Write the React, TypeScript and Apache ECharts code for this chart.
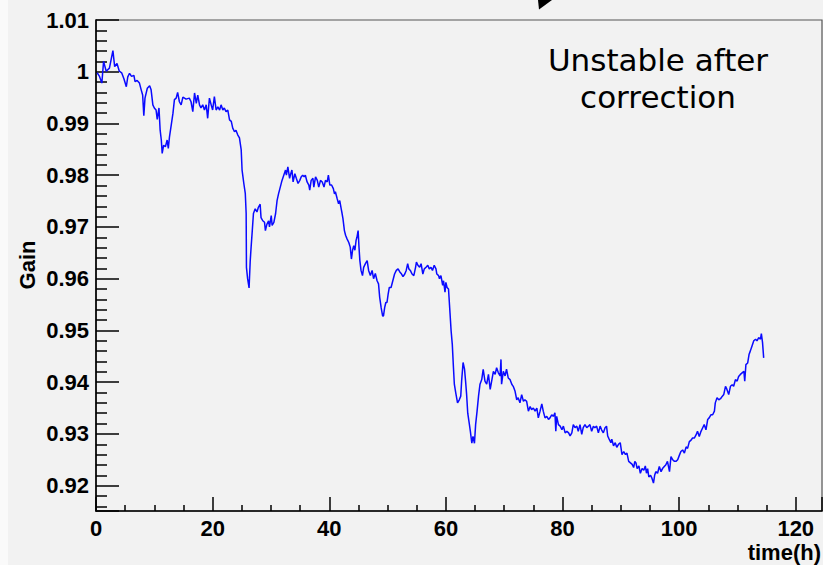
import { useEffect, useRef } from "react";
import * as echarts from "echarts";

// Gain of the detector channel versus elapsed time (hours)
const hours = [
  0.2, 0.6, 1.0, 1.3, 1.75, 2.3, 2.9, 3.2, 3.6, 4.0,
  4.4, 4.8, 5.2, 5.45, 5.75, 6.1, 6.5, 6.7, 7.05, 7.45,
  7.75, 8.0, 8.2, 8.4, 8.8, 9.2, 9.45, 9.75, 10.0, 10.3,
  10.5, 10.8, 11.0, 11.2, 11.35, 11.6, 11.9, 12.2, 12.4, 12.6,
  12.9, 13.2, 13.45, 13.75, 14.0, 14.3, 14.6, 14.9, 15.45, 16.0,
  16.3, 16.6, 16.9, 17.2, 17.45, 17.75, 18.0, 18.3, 18.6, 18.9,
  19.15, 19.45, 19.75, 20.0, 20.3, 20.6, 20.9, 21.2, 21.45, 21.75,
  22.0, 22.3, 22.6, 22.9, 23.2, 23.45, 23.75, 24.0, 24.3, 24.6,
  24.9, 25.05, 25.35, 25.6, 25.75, 25.8, 26.0, 26.25, 26.45, 26.6,
  26.8, 27.0, 27.3, 27.6, 27.85, 28.15, 28.3, 28.6, 28.9, 29.05,
  29.3, 29.6, 29.75, 30.05, 30.2, 30.5, 30.8, 31.05, 31.3, 31.6,
  31.9, 32.2, 32.5, 32.65, 32.9, 33.2, 33.4, 33.6, 33.8, 34.1,
  34.35, 34.65, 34.95, 35.2, 35.45, 35.7, 35.9, 36.2, 36.5, 36.65,
  36.9, 37.2, 37.35, 37.65, 37.95, 38.2, 38.5, 38.8, 39.1, 39.35,
  39.65, 39.85, 40.1, 40.4, 40.7, 40.9, 41.05, 41.35, 41.6, 41.8,
  42.05, 42.2, 42.35, 42.6, 42.8, 43.05, 43.35, 43.6, 43.8, 44.0,
  44.2, 44.4, 44.6, 44.75, 44.95, 45.1, 45.25, 45.45, 45.7, 45.9,
  46.2, 46.5, 46.75, 47.05, 47.35, 47.6, 47.9, 48.2, 48.45, 48.65,
  48.9, 49.15, 49.3, 49.5, 49.7, 49.9, 50.1, 50.3, 50.6, 50.9,
  51.2, 51.5, 51.8, 52.1, 52.4, 52.65, 52.95, 53.2, 53.45, 53.65,
  53.9, 54.2, 54.5, 54.8, 54.95, 55.2, 55.5, 55.75, 56.05, 56.3,
  56.6, 56.9, 57.15, 57.45, 57.7, 58.0, 58.3, 58.45, 58.75, 58.9,
  59.15, 59.45, 59.6, 59.85, 60.0, 60.2, 60.45, 60.7, 60.9, 61.1,
  61.3, 61.45, 61.7, 62.0, 62.3, 62.55, 62.7, 62.95, 63.2, 63.4,
  63.55, 63.75, 64.0, 64.2, 64.45, 64.65, 64.9, 65.1, 65.35, 65.6,
  65.85, 66.15, 66.4, 66.7, 67.0, 67.3, 67.6, 67.85, 68.15, 68.45,
  68.7, 69.0, 69.3, 69.45, 69.55, 69.85, 70.15, 70.4, 70.7, 71.0,
  71.3, 71.55, 71.85, 72.15, 72.4, 72.7, 73.0, 73.3, 73.55, 73.85,
  74.15, 74.45, 74.7, 75.0, 75.3, 75.6, 75.85, 76.15, 76.45, 76.7,
  77.0, 77.3, 77.6, 77.85, 78.15, 78.45, 78.7, 78.85, 79.0, 79.3,
  79.6, 79.9, 80.15, 80.45, 80.75, 81.05, 81.3, 81.6, 81.85, 82.15,
  82.45, 82.7, 83.0, 83.3, 83.55, 83.85, 84.15, 84.45, 84.7, 85.0,
  85.3, 85.55, 85.85, 86.15, 86.45, 86.7, 87.0, 87.3, 87.55, 87.75,
  88.0, 88.3, 88.45, 88.75, 89.05, 89.3, 89.6, 89.9, 90.2, 90.5,
  90.8, 91.05, 91.35, 91.65, 91.95, 92.2, 92.4, 92.6, 92.8, 93.1,
  93.35, 93.65, 93.95, 94.2, 94.4, 94.6, 94.8, 95.1, 95.35, 95.6,
  95.8, 96.0, 96.3, 96.6, 96.9, 97.15, 97.45, 97.7, 98.0, 98.35,
  98.6, 98.9, 99.2, 99.45, 99.75, 100.05, 100.3, 100.6, 100.9, 101.2,
  101.45, 101.75, 102.05, 102.3, 102.6, 102.9, 103.15, 103.45, 103.75, 104.0,
  104.3, 104.6, 104.9, 105.15, 105.45, 105.75, 106.05, 106.2, 106.5, 106.8,
  107.1, 107.35, 107.65, 107.95, 108.2, 108.5, 108.8, 109.1, 109.35, 109.65,
  109.95, 110.2, 110.5, 110.8, 111.1, 111.25, 111.45, 111.75, 112.0, 112.2,
  112.5, 112.8, 113.1, 113.35, 113.65, 113.95, 114.1, 114.3, 114.5,
];

const gain = [
  0.9998, 0.9991, 0.9978, 1.0020, 1.0001, 1.0007, 1.0041, 1.0010, 1.0016, 1.0001,
  0.9998, 0.9986, 0.9971, 0.9990, 0.9997, 0.9991, 0.9993, 0.9981, 0.9983, 0.9978,
  0.9965, 0.9955, 0.9915, 0.9949, 0.9968, 0.9973, 0.9965, 0.9936, 0.9930, 0.9926,
  0.9908, 0.9930, 0.9887, 0.9868, 0.9842, 0.9858, 0.9855, 0.9868, 0.9852, 0.9874,
  0.9897, 0.9920, 0.9946, 0.9949, 0.9960, 0.9942, 0.9936, 0.9951, 0.9947, 0.9949,
  0.9942, 0.9923, 0.9959, 0.9939, 0.9955, 0.9936, 0.9930, 0.9936, 0.9926, 0.9936,
  0.9910, 0.9949, 0.9936, 0.9926, 0.9952, 0.9926, 0.9932, 0.9926, 0.9936, 0.9926,
  0.9930, 0.9923, 0.9926, 0.9907, 0.9904, 0.9891, 0.9884, 0.9887, 0.9878, 0.9872,
  0.9849, 0.9810, 0.9784, 0.9765, 0.9726, 0.9622, 0.9600, 0.9582, 0.9635, 0.9661,
  0.9693, 0.9726, 0.9735, 0.9729, 0.9738, 0.9744, 0.9718, 0.9712, 0.9709, 0.9693,
  0.9705, 0.9712, 0.9700, 0.9722, 0.9703, 0.9709, 0.9726, 0.9751, 0.9764, 0.9777,
  0.9790, 0.9800, 0.9810, 0.9800, 0.9816, 0.9794, 0.9803, 0.9810, 0.9787, 0.9803,
  0.9794, 0.9784, 0.9790, 0.9797, 0.9800, 0.9797, 0.9800, 0.9787, 0.9781, 0.9771,
  0.9790, 0.9794, 0.9777, 0.9797, 0.9790, 0.9777, 0.9790, 0.9787, 0.9777, 0.9790,
  0.9787, 0.9800, 0.9781, 0.9781, 0.9774, 0.9764, 0.9768, 0.9755, 0.9745, 0.9751,
  0.9735, 0.9726, 0.9716, 0.9693, 0.9684, 0.9677, 0.9670, 0.9661, 0.9638, 0.9655,
  0.9664, 0.9655, 0.9674, 0.9680, 0.9693, 0.9661, 0.9635, 0.9616, 0.9606, 0.9622,
  0.9629, 0.9635, 0.9616, 0.9606, 0.9616, 0.9600, 0.9610, 0.9596, 0.9590, 0.9564,
  0.9544, 0.9528, 0.9528, 0.9544, 0.9554, 0.9554, 0.9570, 0.9583, 0.9583, 0.9596,
  0.9609, 0.9616, 0.9619, 0.9613, 0.9609, 0.9604, 0.9609, 0.9616, 0.9629, 0.9619,
  0.9616, 0.9609, 0.9606, 0.9622, 0.9632, 0.9626, 0.9622, 0.9629, 0.9609, 0.9619,
  0.9622, 0.9626, 0.9619, 0.9622, 0.9616, 0.9626, 0.9619, 0.9609, 0.9606, 0.9600,
  0.9606, 0.9587, 0.9596, 0.9574, 0.9593, 0.9583, 0.9580, 0.9535, 0.9499, 0.9473,
  0.9428, 0.9396, 0.9379, 0.9360, 0.9366, 0.9373, 0.9402, 0.9438, 0.9425, 0.9399,
  0.9377, 0.9340, 0.9321, 0.9305, 0.9282, 0.9295, 0.9282, 0.9318, 0.9344, 0.9373,
  0.9396, 0.9405, 0.9425, 0.9402, 0.9396, 0.9415, 0.9386, 0.9402, 0.9421, 0.9415,
  0.9428, 0.9418, 0.9412, 0.9444, 0.9396, 0.9421, 0.9412, 0.9425, 0.9408, 0.9405,
  0.9396, 0.9392, 0.9383, 0.9366, 0.9370, 0.9360, 0.9376, 0.9363, 0.9366, 0.9363,
  0.9344, 0.9353, 0.9347, 0.9350, 0.9344, 0.9350, 0.9331, 0.9344, 0.9358, 0.9344,
  0.9331, 0.9334, 0.9328, 0.9331, 0.9337, 0.9334, 0.9341, 0.9305, 0.9334, 0.9318,
  0.9315, 0.9308, 0.9315, 0.9302, 0.9305, 0.9302, 0.9296, 0.9302, 0.9318, 0.9312,
  0.9315, 0.9305, 0.9318, 0.9299, 0.9312, 0.9318, 0.9312, 0.9315, 0.9318, 0.9305,
  0.9315, 0.9312, 0.9315, 0.9302, 0.9315, 0.9308, 0.9302, 0.9312, 0.9315, 0.9296,
  0.9290, 0.9283, 0.9290, 0.9277, 0.9283, 0.9274, 0.9280, 0.9283, 0.9260, 0.9266,
  0.9260, 0.9263, 0.9247, 0.9244, 0.9241, 0.9235, 0.9247, 0.9244, 0.9233, 0.9238,
  0.9224, 0.9233, 0.9230, 0.9238, 0.9224, 0.9233, 0.9217, 0.9220, 0.9214, 0.9205,
  0.9220, 0.9227, 0.9224, 0.9237, 0.9227, 0.9233, 0.9237, 0.9240, 0.9247, 0.9227,
  0.9256, 0.9250, 0.9247, 0.9247, 0.9250, 0.9259, 0.9266, 0.9269, 0.9263, 0.9275,
  0.9272, 0.9285, 0.9288, 0.9292, 0.9292, 0.9298, 0.9305, 0.9295, 0.9305, 0.9311,
  0.9318, 0.9308, 0.9328, 0.9331, 0.9337, 0.9337, 0.9344, 0.9360, 0.9370, 0.9366,
  0.9368, 0.9372, 0.9376, 0.9392, 0.9386, 0.9376, 0.9392, 0.9395, 0.9392, 0.9405,
  0.9402, 0.9411, 0.9415, 0.9418, 0.9421, 0.9402, 0.9434, 0.9437, 0.9454, 0.9460,
  0.9470, 0.9480, 0.9483, 0.9480, 0.9486, 0.9483, 0.9494, 0.9477, 0.9447,
];

const timeRange = [0, 124.5];
const gainRange = [0.9151, 1.01];

const axisTitleX = "time(h)";
const axisTitleY = "Gain";
const note = "Unstable after\ncorrection";

export default function App() {
  const ref = useRef<HTMLDivElement>(null);

  useEffect(() => {
    if (!ref.current) return;
    const chart = echarts.init(ref.current, null, { renderer: "svg" });

    const boldFont = "Liberation Sans";
    const labelStyle = {
      fontFamily: boldFont,
      fontWeight: "bold" as const,
      fontSize: 22,
      color: "#000",
    };
    const tickLine = { color: "#000", width: 1.5 };

    chart.setOption({
      animation: false,
      backgroundColor: "#f2f2f2",
      grid: {
        left: 96,
        top: 20,
        right: 1,
        bottom: 55,
        show: true,
        backgroundColor: "#f2f2f2",
        borderColor: "#555",
        borderWidth: 1.2,
      },
      xAxis: {
        type: "value",
        min: timeRange[0],
        max: timeRange[1],
        splitNumber: 6,
        axisLine: { show: true, onZero: false, lineStyle: { color: "#000", width: 1.6 } },
        axisTick: { show: true, inside: true, length: 14, lineStyle: tickLine },
        minorTick: { show: true, splitNumber: 4, length: 6, lineStyle: tickLine },
        axisLabel: { ...labelStyle, margin: 6, showMaxLabel: false },
        splitLine: { show: false },
        minorSplitLine: { show: false },
      },
      yAxis: {
        type: "value",
        min: gainRange[0],
        max: gainRange[1],
        splitNumber: 10,
        axisLine: { show: true, onZero: false, lineStyle: { color: "#000", width: 1.6 } },
        axisTick: { show: true, inside: true, length: 23, lineStyle: tickLine },
        minorTick: { show: true, splitNumber: 5, length: 11, lineStyle: tickLine },
        axisLabel: { ...labelStyle, margin: 7, showMinLabel: false },
        splitLine: { show: false },
        minorSplitLine: { show: false },
      },
      series: [
        {
          type: "line",
          data: hours.map((h, i) => [h, gain[i]]),
          showSymbol: false,
          symbol: "none",
          lineStyle: { color: "#0a0aff", width: 1.5 },
          itemStyle: { color: "#0a0aff" },
        },
      ],
      graphic: [
        {
          type: "rect",
          shape: { x: 0, y: 0, width: 8, height: 566 },
          style: { fill: "#fafafa" },
          silent: true,
        },
        {
          type: "rect",
          shape: { x: 0, y: 565, width: 823, height: 1 },
          style: { fill: "#ffffff" },
          silent: true,
        },
        {
          type: "polygon",
          shape: { points: [[538, 0], [552, 0], [539, 9.5]] },
          style: { fill: "#000" },
          silent: true,
        },
        {
          type: "text",
          x: 658,
          y: 41,
          style: {
            text: note,
            fontFamily: "DejaVu Sans",
            fontSize: 31,
            lineHeight: 37,
            fill: "#000",
            align: "center",
            verticalAlign: "top",
          },
        },
        {
          type: "text",
          x: 27,
          y: 265,
          rotation: Math.PI / 2,
          style: {
            text: axisTitleY,
            fontFamily: boldFont,
            fontWeight: "bold",
            fontSize: 22,
            fill: "#000",
            align: "center",
            verticalAlign: "middle",
          },
        },
        {
          type: "text",
          x: 821,
          y: 552,
          style: {
            text: axisTitleX,
            fontFamily: boldFont,
            fontWeight: "bold",
            fontSize: 22,
            fill: "#000",
            align: "right",
            verticalAlign: "middle",
          },
        },
      ],
    });

    return () => chart.dispose();
  }, []);

  return (
    <div
      ref={ref}
      style={{ position: "fixed", left: 0, top: 0, width: 823, height: 566 }}
    />
  );
}
